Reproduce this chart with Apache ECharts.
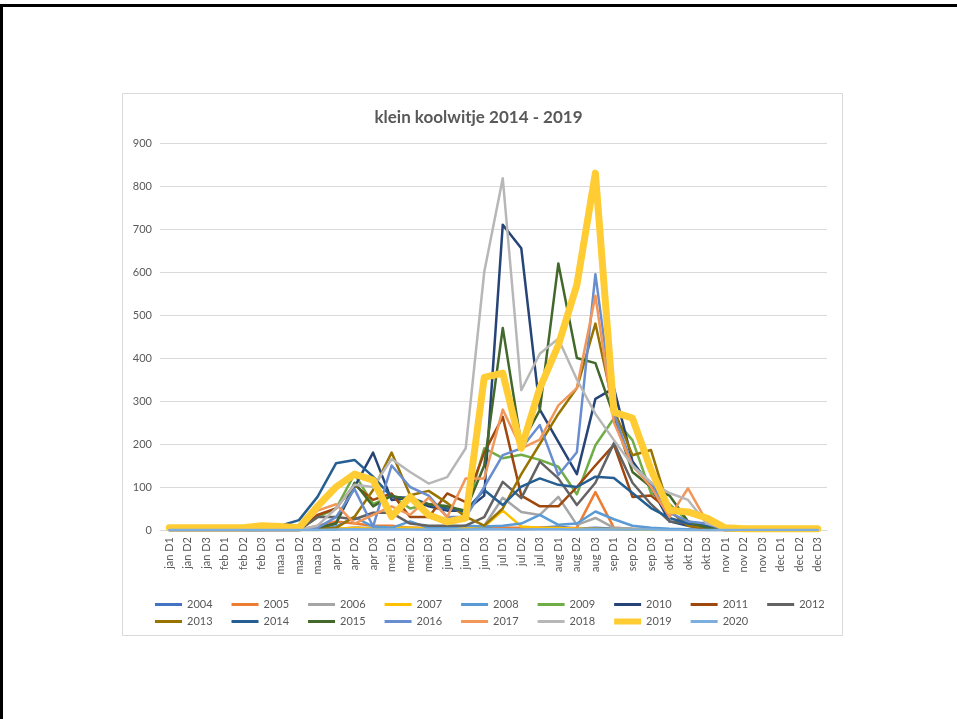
<!DOCTYPE html>
<html>
<head>
<meta charset="utf-8">
<script src="https://cdn.jsdelivr.net/npm/echarts@6/dist/echarts.min.js"></script>
<style>
html,body{margin:0;padding:0;background:#fff;}
#chart{width:957px;height:719px;}
</style>
</head>
<body>
<div id="chart"></div>
<script>
const titleText = 'klein koolwitje 2014 - 2019';
const categories = ['jan D1','jan D2','jan D3','feb D1','feb D2','feb D3','maa D1','maa D2','maa D3','apr D1','apr D2','apr D3','mei D1','mei D2','mei D3','jun D1','jun D2','jun D3','jul D1','jul D2','jul D3','aug D1','aug D2','aug D3','sep D1','sep D2','sep D3','okt D1','okt D2','okt D3','nov D1','nov D2','nov D3','dec D1','dec D2','dec D3'];
const yTicks = [0,100,200,300,400,500,600,700,800,900];

const s2004 = [0,0,0,0,0,0,0,0,0,2,5,3,5,3,2,2,3,5,5,3,5,8,3,5,3,2,2,1,0,0,0,0,0,0,0,0];
const s2005 = [0,0,0,0,0,0,0,0,10,20,15,10,10,5,5,5,5,10,5,5,5,3,5,88,5,3,2,2,1,0,0,0,0,0,0,0];
const s2006 = [0,0,0,0,0,0,0,0,0,3,5,5,5,5,3,3,5,10,75,42,35,77,12,28,5,3,2,1,0,0,0,0,0,0,0,0];
const s2007 = [0,0,0,0,0,0,0,0,0,3,5,3,5,5,3,3,5,8,45,8,5,5,3,3,2,1,0,0,0,0,0,0,0,0,0,0];
const s2008 = [0,0,0,0,0,0,0,0,5,8,30,8,5,20,5,5,10,8,10,15,35,12,15,43,25,10,5,3,2,0,0,0,0,0,0,0];
const s2009 = [0,0,0,0,0,0,0,0,30,50,130,60,80,50,60,55,40,190,167,175,163,147,83,197,260,209,86,60,20,5,0,0,0,0,0,0];
const s2010 = [0,0,0,0,0,0,0,0,5,15,100,180,70,75,55,45,45,80,710,655,280,205,130,305,330,160,100,20,10,5,0,0,0,0,0,0];
const s2011 = [0,0,0,0,0,0,0,0,35,50,105,70,85,30,30,85,65,180,263,80,55,55,100,150,198,77,80,45,10,3,0,0,0,0,0,0];
const s2012 = [0,0,0,0,0,0,0,0,30,30,25,40,40,15,10,10,10,30,112,74,159,120,58,110,202,110,60,20,15,5,0,0,0,0,0,0];
const s2013 = [0,0,0,0,0,0,0,0,3,5,31,93,180,81,91,63,31,10,50,130,200,270,330,480,280,174,186,45,10,5,0,0,0,0,0,0];
const s2014 = [0,0,0,0,0,0,10,23,77,155,163,124,77,75,60,50,45,93,58,101,120,105,100,124,121,86,51,28,15,10,5,3,2,2,2,2];
const s2015 = [0,0,0,0,0,0,0,0,5,15,110,55,80,70,60,55,45,150,470,200,279,620,400,388,265,135,100,80,20,5,0,0,0,0,0,0];
const s2016 = [0,0,0,0,0,0,0,0,5,30,95,8,150,100,80,30,30,100,174,190,244,128,181,595,270,150,110,40,20,15,0,0,0,0,0,0];
const s2017 = [0,0,0,0,0,0,0,0,45,60,15,35,55,35,75,30,120,120,280,190,210,290,330,545,250,150,100,30,97,20,0,0,0,0,0,0];
const s2018 = [0,0,0,0,0,0,0,0,10,50,105,100,165,135,108,123,190,600,818,325,410,445,350,270,209,150,110,86,70,15,5,0,0,0,0,0];
const s2019 = [5,5,5,5,5,10,8,5,55,100,130,116,31,77,35,19,28,355,365,190,330,430,570,830,274,260,140,46,42,28,5,3,3,3,3,3];
const s2020 = [0,0,0,0,0,0,0,0,0,1,2,1,2,1,1,1,1,2,2,1,2,2,1,2,1,1,1,0,0,0,0,0,0,0,0,0];

const seriesNames = ['2004','2005','2006','2007','2008','2009','2010','2011','2012','2013','2014','2015','2016','2017','2018','2019','2020'];
const seriesData = [s2004,s2005,s2006,s2007,s2008,s2009,s2010,s2011,s2012,s2013,s2014,s2015,s2016,s2017,s2018,s2019,s2020];
const seriesColors = ['#4472C4','#ED7D31','#A5A5A5','#FFC000','#5B9BD5','#70AD47','#264478','#9E480E','#636363','#997300','#255E91','#43682B','#698ED0','#F1975A','#B7B7B7','#FFCD33','#7CAFDD'];

const FONT = 'Lato, "Liberation Sans", sans-serif';
const thinIcon = 'path://M0,0H27V3H0Z';
const thickIcon = 'path://M0,0H27V6H0Z';

function legendRow(names, top) {
  return {
    data: names.map(n => ({name: n, icon: n === '2019' ? thickIcon : thinIcon})),
    left: 150, top: top, orient: 'horizontal',
    itemWidth: 27, itemHeight: 6, itemGap: 19,
    symbolKeepAspect: true,
    selectedMode: false,
    textStyle: {fontFamily: FONT, fontSize: 11, color: '#595959'}
  };
}

const chart = echarts.init(document.getElementById('chart'), null, {renderer:'canvas'});
chart.setOption({
  animation: false,
  backgroundColor: '#ffffff',
  graphic: [
    {type:'rect', shape:{x:1.5, y:5.5, width:1000, height:1000}, style:{fill:'none', stroke:'#000', lineWidth:3}, silent:true, z:-10},
    {type:'rect', shape:{x:122.5, y:93.5, width:720, height:542}, style:{fill:'#fff', stroke:'#D9D9D9', lineWidth:1}, silent:true, z:-9}
  ],
  title: {
    text: titleText,
    left: 'center', top: 104,
    textStyle: {fontFamily: FONT, fontSize: 17, fontWeight: 'bold', color: '#595959'}
  },
  legend: [legendRow(seriesNames.slice(0, 9), 594), legendRow(seriesNames.slice(9), 611)],
  grid: {left: 160, right: 130, top: 143, bottom: 189, containLabel: false},
  xAxis: {
    type: 'category', data: categories, boundaryGap: true,
    axisLine: {lineStyle: {color: '#D9D9D9', width: 1}},
    axisTick: {show: false},
    axisLabel: {rotate: 90, interval: 0, margin: 7, fontFamily: FONT, fontSize: 11, color: '#595959'}
  },
  yAxis: {
    type: 'value', min: yTicks[0], max: yTicks[yTicks.length-1], interval: 100,
    axisLine: {show: false}, axisTick: {show: false},
    splitLine: {lineStyle: {color: '#D9D9D9', width: 1}},
    axisLabel: {margin: 8, fontFamily: FONT, fontSize: 11, color: '#595959'}
  },
  series: seriesNames.map((n, i) => ({
    name: n, type: 'line', data: seriesData[i],
    symbol: 'none', showSymbol: false, smooth: false,
    color: seriesColors[i],
    itemStyle: {color: seriesColors[i]},
    lineStyle: {color: seriesColors[i], width: n === '2019' ? 7 : 2.5, cap: 'round', join: 'round'},
    emphasis: {disabled: true}
  }))
});
</script>
</body>
</html>
